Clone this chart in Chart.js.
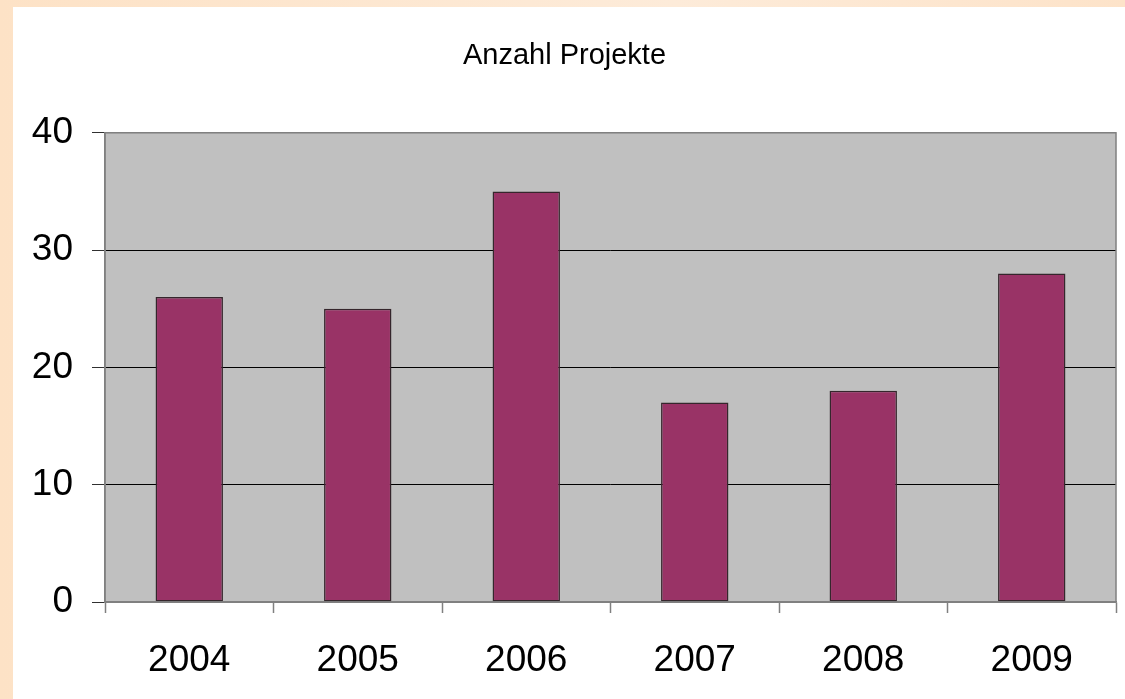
<!DOCTYPE html>
<html>
<head>
<meta charset="utf-8">
<script src="https://cdn.jsdelivr.net/npm/chart.js@4"></script>
<style>
  html, body { margin: 0; padding: 0; }
  body {
    width: 1125px; height: 699px; overflow: hidden;
    background: linear-gradient(to right, #fde2c6, #fdebd9 60%, #fde3c9);
  }
  #box {
    position: absolute; left: 13px; top: 7px;
    width: 1112px; height: 692px; background: #ffffff;
  }
</style>
</head>
<body>
<div id="box"><canvas id="grafik" width="1112" height="692"></canvas></div>
<script>
const jahre = ['2004', '2005', '2006', '2007', '2008', '2009'];
const anzahl = [26, 25, 35, 17, 18, 28];
const yTicks = [0, 10, 20, 30, 40];

// grauer Hintergrund + Rahmen der Zeichenfläche
const plotFlaeche = {
    id: 'plotFlaeche',
    beforeDraw(chart) {
        const { ctx, chartArea: a } = chart;
        ctx.save();
        ctx.fillStyle = '#c0c0c0';
        ctx.fillRect(a.left, a.top, a.right - a.left, a.bottom - a.top);
        ctx.restore();
    },
    afterDatasetsDraw(chart) {
        const { ctx, chartArea: a } = chart;
        ctx.save();
        ctx.strokeStyle = '#808080';
        ctx.lineWidth = 1.5;
        ctx.strokeRect(a.left, a.top, a.right - a.left, a.bottom - a.top);
        ctx.restore();
    }
};

const ctx = document.getElementById('grafik').getContext('2d');
const chart = new Chart(ctx, {
    type: 'bar',
    data: {
        labels: jahre,
        datasets: [{
            label: 'Anzahl Projekte',
            data: anzahl,
            backgroundColor: '#993366',
            borderColor: '#35262c',
            borderWidth: 1.5,
            borderSkipped: false,
            categoryPercentage: 1,
            barPercentage: 0.4,
        }]
    },
    plugins: [plotFlaeche],
    options: {
        responsive: false,
        animation: false,
        layout: {
            padding: { left: 0, right: 9, top: 0, bottom: 0 }
        },
        plugins: {
            legend: { display: false },
            tooltip: { enabled: false },
            title: {
                display: true,
                text: 'Anzahl Projekte',
                color: '#000',
                font: { family: 'Liberation Sans, Arial', size: 29, weight: 'normal' },
                padding: { top: 32, bottom: 59 },
            },
        },
        scales: {
            x: {
                offset: true,
                grid: {
                    offset: true,
                    drawOnChartArea: false,
                    tickLength: 11,
                    tickColor: '#808080',
                    tickWidth: 1.5,
                },
                border: { color: '#808080', width: 1.5 },
                ticks: {
                    color: '#000',
                    padding: 26,
                    font: { family: 'Liberation Sans, Arial', size: 37 },
                },
                afterFit(scale) { scale.height = 97; },
            },
            y: {
                min: 0,
                max: 40,
                afterBuildTicks(scale) {
                    scale.ticks = yTicks.map(v => ({ value: v }));
                },
                grid: {
                    color: c => (c.tick && (c.tick.value === 0 || c.tick.value === 40)) ? '#808080' : '#000000',
                    lineWidth: 1,
                    tickLength: 13,
                    tickColor: '#303030',
                },
                border: { color: '#808080', width: 1.5 },
                ticks: {
                    color: '#000',
                    padding: 19,
                    font: { family: 'Liberation Sans, Arial', size: 37 },
                },
                afterFit(scale) { scale.width = 92; },
            }
        }
    }
});
</script>
</body>
</html>
